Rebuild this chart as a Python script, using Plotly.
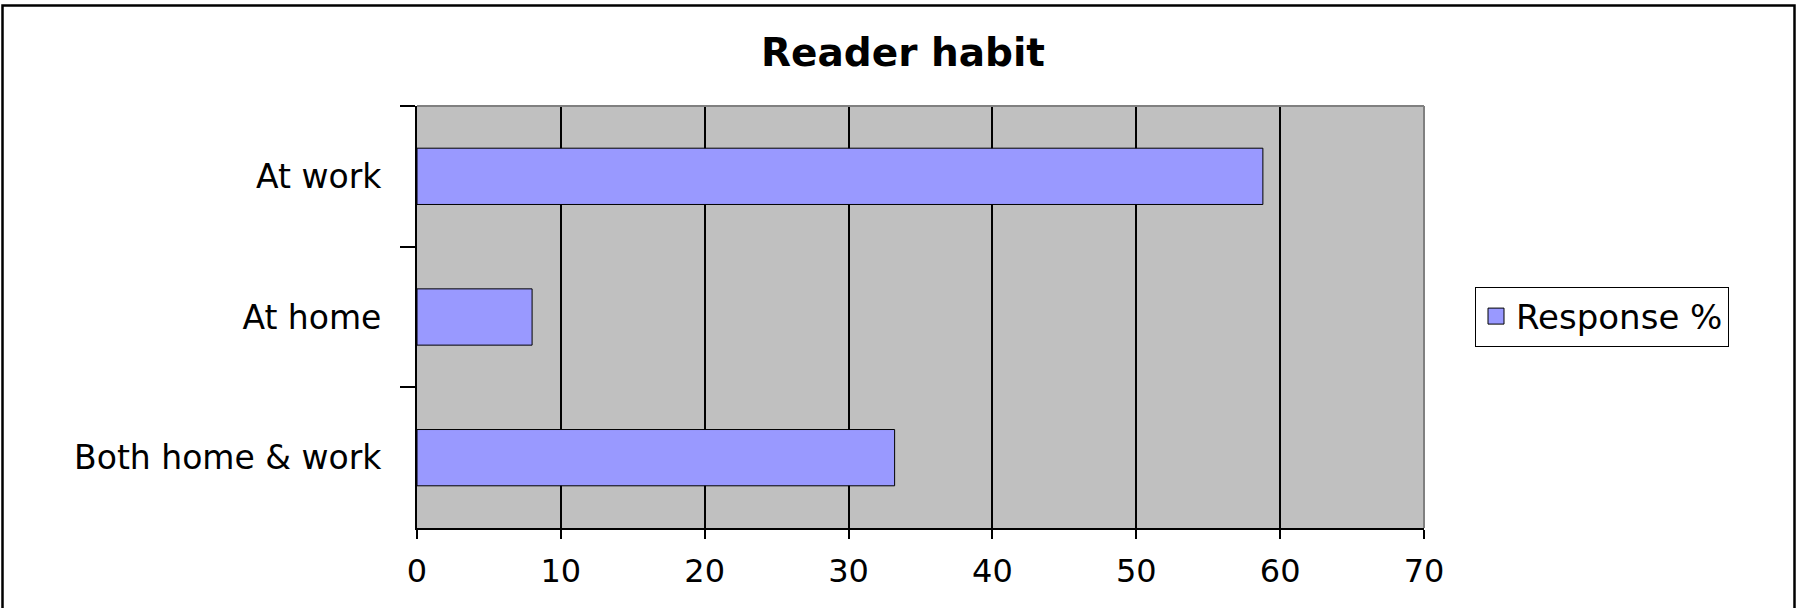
import plotly.graph_objects as go

categories = ["At work", "At home", "Both home & work"]
response_pct = [58.8, 8.0, 33.2]
x_ticks = [0, 10, 20, 30, 40, 50, 60, 70]
series_name = "Response %"

W, H = 1802, 608
L, R, T, B = 417, 1424, 106, 528
pw, ph = R - L, B - T

def px(x):
    return (x - L) / pw

def py(y):
    return (B - y) / ph

font_family = "DejaVu Sans, Liberation Sans, Arial, sans-serif"
bar_color = "#9999FF"

fig = go.Figure()
fig.add_trace(go.Bar(
    x=response_pct,
    y=categories,
    orientation="h",
    name=series_name,
    marker=dict(color=bar_color, line=dict(color="#000000", width=1)),
    showlegend=False,
))
# legend entry with a larger square key (Excel-like)
fig.add_trace(go.Scatter(
    x=[None], y=[None],
    mode="markers",
    name=series_name,
    marker=dict(symbol="square", size=18, color=bar_color,
                line=dict(color="#000000", width=1)),
    showlegend=True,
    hoverinfo="skip",
))

fig.update_layout(
    width=W, height=H,
    margin=dict(l=L, r=W - R, t=T, b=H - B, pad=0),
    paper_bgcolor="white",
    plot_bgcolor="#C0C0C0",
    bargap=0.6,
    font=dict(family=font_family, size=33, color="#000000"),
    title=dict(
        text="<b>Reader habit</b>",
        x=903 / W, xanchor="center",
        y=1 - 52 / H, yanchor="middle",
        xref="container", yref="container",
        font=dict(family=font_family, size=39, color="#000000"),
    ),
    legend=dict(
        x=px(1475), xanchor="left",
        y=py(316.5), yanchor="middle",
        bgcolor="white",
        bordercolor="#000000", borderwidth=1,
        font=dict(family=font_family, size=34, color="#000000"),
        itemwidth=30,
        tracegroupgap=0,
    ),
    xaxis=dict(
        range=[0, 70],
        tickmode="array", tickvals=x_ticks,
        ticktext=[str(v) for v in x_ticks],
        showgrid=True, gridcolor="#000000", gridwidth=2,
        zeroline=False,
        showline=True, linecolor="#000000", linewidth=1.5,
        ticks="outside", ticklen=9, tickcolor="#000000", tickwidth=1.5,
        ticklabelstandoff=5,
        tickfont=dict(size=32),
        mirror=False,
    ),
    yaxis=dict(
        type="category",
        autorange="reversed",
        showgrid=False, zeroline=False,
        showline=True, linecolor="#000000", linewidth=2,
        ticks="outside", ticklen=15, tickcolor="#000000", tickwidth=1.5,
        tickson="boundaries",
        ticklabelstandoff=27,
    ),
    shapes=[
        dict(type="line", xref="paper", yref="paper", x0=0, x1=1, y0=1, y1=1,
             line=dict(color="#808080", width=2), layer="above"),
        dict(type="line", xref="paper", yref="paper", x0=1, x1=1, y0=0, y1=1,
             line=dict(color="#808080", width=2), layer="above"),
        dict(type="rect", xref="paper", yref="paper",
             x0=px(2.5), x1=px(1794.5), y0=py(640), y1=py(5.5),
             line=dict(color="#000000", width=2.5), fillcolor="rgba(0,0,0,0)"),
    ],
)

fig.write_html(
    "out.html",
    config={"displayModeBar": False},
    post_script="document.body.style.margin='0';document.body.style.overflow='hidden';",
)
